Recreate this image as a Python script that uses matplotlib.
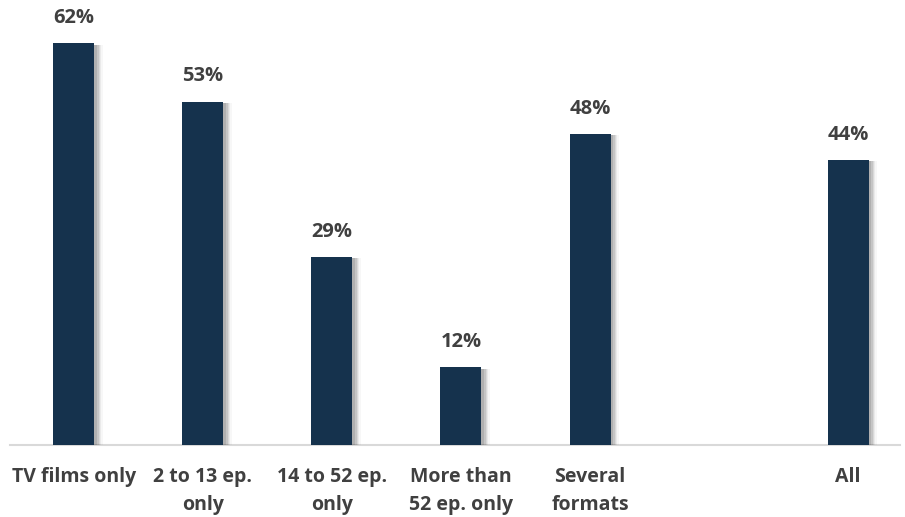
import matplotlib
matplotlib.use("Agg")
import matplotlib.pyplot as plt
import matplotlib.patheffects as pe

categories = ["TV films only", "2 to 13 ep.\nonly", "14 to 52 ep.\nonly",
              "More than\n52 ep. only", "Several\nformats", "", "All"]
values = [62, 53, 29, 12, 48, None, 44]
labels = ["62%", "53%", "29%", "12%", "48%", "", "44%"]

BAR = "#15324d"
TXT = "#404040"
FONT = "Open Sans"

fig = plt.figure(figsize=(9.05, 5.17), dpi=100)
ax = fig.add_axes([10/905, 72/517, 890/905, 445/517])

xs = [i for i, v in enumerate(values) if v is not None]
vs = [v for v in values if v is not None]
shadow = [pe.SimplePatchShadow(offset=(o, -1), shadow_rgbFace="#000000", alpha=a)
          for o, a in [(6, 0.03), (5, 0.05), (4, 0.07), (3, 0.09), (2, 0.10)]]
bars = ax.bar(xs, vs, width=41/129, color=BAR, zorder=3)
for b in bars:
    b.set_path_effects(shadow + [pe.Normal()])

for x, v in zip(xs, vs):
    ax.annotate(labels[x], (x, v), xytext=(0, 11), textcoords="offset points",
                ha="center", va="bottom", fontsize=14.5, fontweight="bold",
                color=TXT, family=FONT)

ax.set_xlim(-0.496, 6.403)
ax.set_ylim(0, 445/6.48)
ax.set_xticks(range(len(categories)))
ax.set_xticklabels(categories, fontsize=14, fontweight="bold", color=TXT,
                   family=FONT, linespacing=1.55)
ax.tick_params(axis="x", length=0, pad=16)
ax.set_yticks([])
for s in ["top", "right", "left"]:
    ax.spines[s].set_visible(False)
ax.spines["bottom"].set_color("#d9d9d9")
ax.spines["bottom"].set_linewidth(1.5)

fig.savefig("out.png", dpi=100)
